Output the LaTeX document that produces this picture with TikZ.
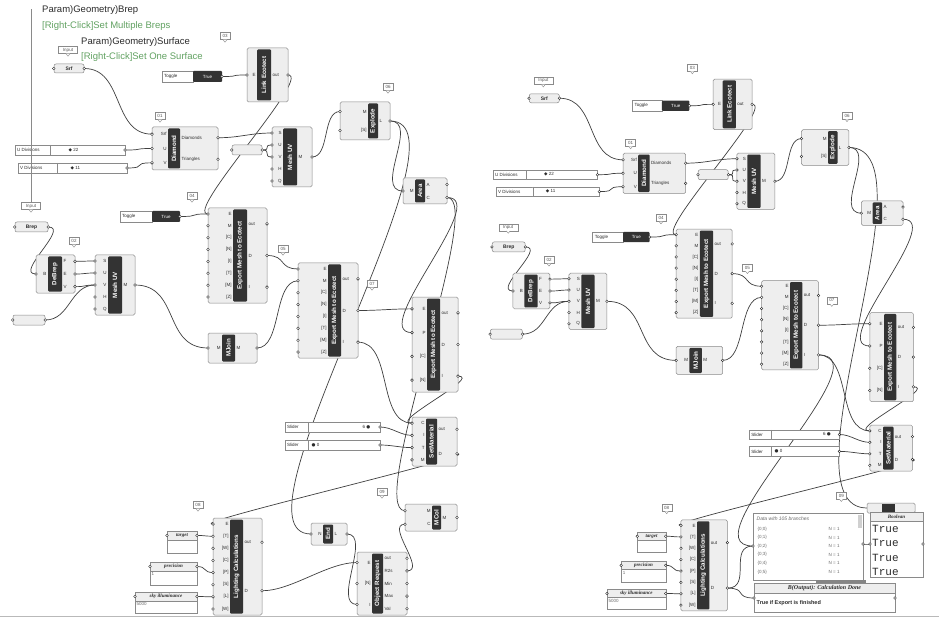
\documentclass[tikz,border=0pt]{standalone}
\usepackage{fontspec}
\setmainfont{Liberation Sans}
\newfontfamily\panelfont{Liberation Serif}
\newfontfamily\codefont{Liberation Mono}
\newfontfamily\glyphfont{DejaVu Sans}
\usetikzlibrary{calc}
\definecolor{Ink}{HTML}{2B2B2B}
\definecolor{Frame}{HTML}{8A8A8A}
\definecolor{Body}{HTML}{EEEEEE}
\definecolor{Band}{HTML}{333333}
\definecolor{Wire}{HTML}{404040}
\definecolor{Hint}{HTML}{62A262}

\pgfdeclarelayer{bg}
\pgfdeclarelayer{wires}
\pgfsetlayers{bg,wires,main}

\tikzset{
  compbox/.style={draw=Frame,fill=Body,line width=0.5pt,rounded corners=1.5pt},
  compband/.style={fill=Band,rounded corners=1pt},
  comptitle/.style={text=white,font=\bfseries\fontsize{6.2}{7}\selectfont,inner sep=0pt},
  portlab/.style={text=Ink,font=\fontsize{4.5}{5}\selectfont,inner sep=0.5pt},
  port/.style={draw=Ink,fill=white,line width=0.4pt},
  wire/.style={draw=Wire,line width=0.7pt},
  parambox/.style={draw=Frame,fill=Body,rounded corners=2pt,line width=0.5pt,inner sep=0pt,font=\bfseries\fontsize{5}{6}\selectfont,text=Ink},
  sliderbox/.style={draw=Frame,fill=white,line width=0.5pt},
  slidertxt/.style={font=\fontsize{4.5}{5}\selectfont,text=Ink,inner sep=0.5pt},
  tagbox/.style={draw=Frame,fill=white,line width=0.4pt,inner sep=1.2pt,minimum width=10pt,minimum height=7pt,font=\fontsize{4.5}{5}\selectfont,text=Ink!80},
  tagptr/.style={draw=Frame,fill=white,line width=0.4pt},
  paneltitle/.style={font=\panelfont\bfseries\itshape\fontsize{5}{6}\selectfont,text=Ink,inner sep=0pt},
  paneltxt/.style={font=\fontsize{4.5}{5}\selectfont,text=Ink!70,inner sep=0.5pt},
  truetxt/.style={font=\codefont\fontsize{11}{12}\selectfont,text=Ink,inner sep=0pt},
  hinttxt/.style={font=\fontsize{9.5}{11}\selectfont,text=Ink,inner sep=0pt},
}

\newcommand{\ghcomp}[8]{%
  \draw[compbox] (#2,#3) rectangle (#4,#5);
  \fill[compband] (#6,#3+1.5) rectangle (#7,#5-1.5);
  \node[comptitle,rotate=90] (#1) at ({(#6+#7)/2},{(#3+#5)/2}) {#8};
  \def\gx{#2}\def\gy{#3}\def\gX{#4}\def\gY{#5}\def\gbl{#6}\def\gbr{#7}}
\newcommand{\ghins}[3]{%
  \foreach \lab [count=\k] in {#3} {
    \pgfmathsetmacro\py{\gy+(\k-0.5)*(\gY-\gy)/#2}
    \coordinate (#1-i\k) at (\gx,\py);
    \node[portlab,anchor=east] (#1-il\k) at (\gbl-0.8,\py) {\lab};
    \draw[port] (#1-i\k) circle (1.4);
  }}
\newcommand{\ghouts}[3]{%
  \foreach \lab [count=\k] in {#3} {
    \pgfmathsetmacro\py{\gy+(\k-0.5)*(\gY-\gy)/#2}
    \coordinate (#1-o\k) at (\gX,\py);
    \node[portlab,anchor=west] (#1-ol\k) at (\gbr+0.8,\py) {\lab};
    \draw[port] (#1-o\k) circle (1.4);
  }}
\newcommand{\ghparam}[6]{%
  \node[parambox,minimum width={(#4-#2)*1pt},minimum height={(#5-#3)*1pt}] (#1) at ({(#2+#4)/2},{(#3+#5)/2}) {#6};
  \draw[port] (#1.west) circle (1.4);
  \draw[port] (#1.east) circle (1.4);}
\newcommand{\ghslider}[9]{%
  \draw[sliderbox] (#2,#3) rectangle (#4,#5);
  \draw[sliderbox] (#6,#3) -- (#6,#5);
  \node[slidertxt,anchor=west] (#1-lab) at (#2+1.5,{(#3+#5)/2}) {#7};
  \node[slidertxt,anchor=west] (#1-val) at (#9,{(#3+#5)/2}) {#8};
  \coordinate (#1) at (#4,{(#3+#5)/2});
  \draw[port] (#1) circle (1.4);}
\newcommand{\ghtoggle}[6]{%
  \draw[sliderbox] (#2,#3) rectangle (#6,#5);
  \fill[Band,rounded corners=1pt] (#6,#3) rectangle (#4,#5);
  \node[slidertxt,anchor=west] (#1-lab) at (#2+1.5,{(#3+#5)/2}) {Toggle};
  \node[slidertxt,text=white] (#1-val) at ({(#6+#4)/2},{(#3+#5)/2}) {True};
  \coordinate (#1) at (#4,{(#3+#5)/2});
  \draw[port] (#1) circle (1.4);}
\newcommand{\ghtag}[5][]{%
  \node[tagbox,#1] (#2) at (#3,#4) {#5};
  \draw[tagptr] (#2.south) ++(-2,0) -- ++(2,2.5) -- ++(2,-2.5);}
\newcommand{\ghpanel}[7]{%
  \draw[draw=Frame,fill=white,line width=0.5pt] (#2,#3) rectangle (#4,#5);
  \draw[draw=Frame,fill=Body,line width=0.5pt] (#2,#3) rectangle (#4,#3+9);
  \node[paneltitle] (#1) at ({(#2+#4)/2},#3+4.5) {#6};
  \node[paneltxt,anchor=north west] (#1-body) at (#2+1,#3+9.8) {#7};
  \coordinate (#1-in) at (#2,#3+4.5);
  \coordinate (#1-out) at (#4,#3+4.5);
  \draw[port] (#1-in) circle (1.4);
  \draw[port] (#1-out) circle (1.4);}
\newcommand{\ghwire}[3][22]{\draw[wire] (#2) .. controls +(#1,0) and +(-#1,0) .. (#3);}

\newcommand{\ghhalf}[1]{%
\ghtag[minimum width=19pt]{#1-tin1}{68}{50}{Input}
\ghparam{#1-srf}{54}{64}{84}{73}{Srf}
\ghtag{#1-t3}{225}{36}{03}
\ghtoggle{#1-tog1}{162}{71}{222}{82}{193}
\ghcomp{#1-link}{247}{48}{288}{102}{257}{271}{Link Ecotect}
\ghins{#1-link}{1}{E}
\ghouts{#1-link}{1}{out}
\ghtag{#1-t1}{160}{116}{01}
\ghcomp{#1-diam}{152}{127}{218}{170}{168}{180}{Diamond}
\ghins{#1-diam}{3}{Srf,U,V}
\ghouts{#1-diam}{2}{Diamonds,Triangles}
\ghslider{#1-udiv}{15}{145}{125}{155}{50}{U Divisions}{{\glyphfont ◆} 22}{68}
\ghslider{#1-vdiv}{18}{163}{127}{173}{57}{V Divisions}{{\glyphfont ◆} 11}{70}
\ghparam{#1-nul1}{232}{145}{262}{155}{}
\ghcomp{#1-mesh1}{272}{127}{312}{187}{283}{297}{Mesh UV}
\ghins{#1-mesh1}{5}{S,U,V,H,Q}
\ghouts{#1-mesh1}{1}{M}
\ghtag{#1-t6}{388}{87}{06}
\ghcomp{#1-expl}{340}{102}{390}{140}{368}{378}{Explode}
\ghins{#1-expl}{2}{M,{[S]}}
\ghouts{#1-expl}{1}{L}
\ghcomp{#1-area}{403}{178}{447}{204}{415}{425}{Area}
\ghins{#1-area}{1}{M}
\ghouts{#1-area}{2}{A,C}
\ghtag[minimum width=19pt]{#1-tin2}{31}{206}{Input}
\ghparam{#1-brep}{15}{222}{48}{232}{Brep}
\ghtag{#1-t2}{74}{241}{02}
\ghcomp{#1-debrep}{36}{255}{75}{293}{48}{62}{DeBrep}
\ghins{#1-debrep}{1}{B}
\ghouts{#1-debrep}{3}{F,E,V}
\ghcomp{#1-mesh2}{95}{255}{135}{315}{108}{122}{Mesh UV}
\ghins{#1-mesh2}{5}{S,U,V,H,Q}
\ghouts{#1-mesh2}{1}{M}
\ghparam{#1-nul2}{13}{315}{45}{325}{}
\ghtoggle{#1-tog2}{120}{211}{180}{222}{152}
\ghtag{#1-t4}{192}{196}{04}
\ghcomp{#1-exp1}{208}{208}{267}{303}{233}{247}{Export Mesh to Ecotect}
\ghins{#1-exp1}{8}{E,M,{[C]},{[N]},{[I]},{[T]},{[M]},{[Z]}}
\ghouts{#1-exp1}{3}{out,D,I}
\ghtag{#1-t5}{283}{249}{05}
\ghcomp{#1-mjoin}{208}{333}{257}{363}{222}{235}{MJoin}
\ghins{#1-mjoin}{1}{M}
\ghouts{#1-mjoin}{1}{M}
\ghcomp{#1-exp2}{298}{263}{358}{358}{328}{341}{Export Mesh to Ecotect}
\ghins{#1-exp2}{8}{E,M,{[C]},{[N]},{[I]},{[T]},{[M]},{[Z]}}
\ghouts{#1-exp2}{3}{out,D,I}
\ghtag{#1-t7}{372}{284}{07}
\ghcomp{#1-exp3}{412}{297}{458}{392}{427}{440}{Export Mesh to Ecotect}
\ghins{#1-exp3}{4}{E,P,{[C]},{[N]}}
\ghouts{#1-exp3}{3}{out,D,I}
\ghslider{#1-sl1}{285}{422}{380}{432}{308}{Slider}{6 {\glyphfont ●}}{362}
\ghslider{#1-sl2}{285}{440}{380}{450}{308}{Slider}{{\glyphfont ●} 0}{311}
\ghcomp{#1-setmat}{412}{417}{457}{466}{426}{437}{SetMaterial}
\ghins{#1-setmat}{4}{C,I,T,M}
\ghouts{#1-setmat}{2}{out,D}
\ghtag{#1-t9}{382}{492}{09}
\ghtag{#1-t8}{198}{505}{08}
\ghcomp{#1-light}{213}{518}{262}{615}{230}{243}{Lighting Calculations}
\ghins{#1-light}{8}{E,{[T]},{[W]},{[C]},{[P]},{[S]},{[L]},{[W]}}
\ghouts{#1-light}{2}{out,D}
\ghpanel{#1-target}{167}{531}{197}{553}{target}{}
\ghpanel{#1-prec}{150}{562}{197}{585}{precision}{1}
\ghpanel{#1-sky}{135}{592}{197}{613}{sky illuminance}{5000}
\begin{pgfonlayer}{wires}
\ghwire[40]{#1-srf.east}{#1-diam-i1}
\ghwire{#1-tog1}{#1-link-i1}
\ghwire{#1-udiv}{#1-diam-i2}
\ghwire{#1-vdiv}{#1-diam-i3}
\ghwire{#1-diam-o1}{#1-mesh1-i1}
\ghwire[10]{#1-nul1.east}{#1-mesh1-i2}
\ghwire[10]{#1-nul1.east}{#1-mesh1-i3}
\ghwire[18]{#1-mesh1-o1}{#1-expl-i1}
\ghwire[30]{#1-expl-o1}{#1-area-i1}
\ghwire[45]{#1-area-o2}{#1-exp3-i2}
\ghwire[25]{#1-link-o1}{#1-exp1-i1}
\ghwire{#1-tog2}{#1-exp1-i1}
\ghwire{#1-brep.east}{#1-debrep-i1}
\ghwire[12]{#1-debrep-o1}{#1-mesh2-i1}
\ghwire[12]{#1-debrep-o2}{#1-mesh2-i2}
\ghwire[12]{#1-debrep-o3}{#1-mesh2-i3}
\ghwire[25]{#1-nul2.east}{#1-mesh2-i3}
\ghwire[45]{#1-mesh2-o1}{#1-mjoin-i1}
\ghwire[25]{#1-mjoin-o1}{#1-exp2-i2}
\ghwire[20]{#1-exp1-o2}{#1-exp2-i1}
\ghwire{#1-exp2-o2}{#1-exp3-i1}
\ghwire[35]{#1-exp2-o3}{#1-setmat-i1}
\ghwire[25]{#1-exp3-o3}{#1-setmat-i1}
\ghwire[12]{#1-sl1}{#1-setmat-i2}
\ghwire[12]{#1-sl2}{#1-setmat-i3}
\ghwire[30]{#1-setmat-o2}{#1-light-i1}
\ghwire[10]{#1-target-out}{#1-light-i2}
\ghwire[10]{#1-prec-out}{#1-light-i5}
\ghwire[10]{#1-sky-out}{#1-light-i7}
\end{pgfonlayer}}

\begin{document}
\begin{tikzpicture}[x=1pt,y=-1pt]
\useasboundingbox (0,0) rectangle (939,620);
\begin{pgfonlayer}{bg}
\fill[white] (0,0) rectangle (939,620);
\draw[Frame!60,line width=0.6pt] (0,616) -- (939,616);
\end{pgfonlayer}

\node[hinttxt,anchor=west] (path1) at (42,10) {Param)Geometry)Brep};
\node[hinttxt,anchor=west,text=Hint] (hint1) at (42,26) {[Right-Click]Set Multiple Breps};
\node[hinttxt,anchor=west] (path2) at (81,42) {Param)Geometry)Surface};
\node[hinttxt,anchor=west,text=Hint] (hint2) at (81,57) {[Right-Click]Set One Surface};

\ghhalf{L}
\draw[Frame,line width=0.5pt] (L-tin2.north) -- ++(0,-193);

\ghcomp{L-end}{311}{523}{347}{545}{323}{333}{End}
\ghins{L-end}{1}{N}
\ghouts{L-end}{1}{L}
\ghcomp{L-objreq}{357}{552}{407}{615}{372}{383}{Object Request}
\ghins{L-objreq}{3}{E,{[N]},I}
\ghouts{L-objreq}{5}{out,R2s,Min,Max,Val}
\ghcomp{L-mcol}{405}{504}{457}{531}{432}{441}{MCol}
\ghins{L-mcol}{2}{M,C}
\ghouts{L-mcol}{1}{M}
\begin{pgfonlayer}{wires}
\ghwire[90]{L-expl-o1}{L-end-i1}
\ghwire[40]{L-area-o2}{L-mcol-i1}
\ghwire[30]{L-light-o2}{L-objreq-i1}
\ghwire[25]{L-end-o1}{L-objreq-i3}
\ghwire[20]{L-objreq-o2}{L-mcol-i2}
\end{pgfonlayer}

\begin{scope}[shift={(478.8,34)},xscale=0.949,yscale=0.938]
\ghhalf{R}
\end{scope}

\node[compbox,minimum width=48pt,minimum height=10pt,inner sep=0pt] (mini) at (891,508) {};
\fill[Band] (882,504) rectangle (895,512);
\coordinate (mini-in) at (867,508);

\node[draw=Frame,fill=white,line width=0.5pt,minimum width=110pt,minimum height=67pt,inner sep=0pt] (data) at (808,546.5) {};
\node[paneltxt,font=\itshape\fontsize{5}{6}\selectfont,anchor=west] (data-head) at (756,519) {Data with 105 branches};
\foreach \r in {0,...,5} {
  \node[paneltxt,anchor=west] (data-k\r) at (757,{529+\r*8.6}) {\{0;\r\}};
  \node[paneltxt,anchor=west] (data-n\r) at (828,{529+\r*8.6}) {N = 1};
}
\fill[Frame!40] (858,515) rectangle (862,528);
\fill[Band!60] (816,580) rectangle (866,585);
\coordinate (data-in) at (753,546);
\coordinate (data-out) at (863,544);
\draw[port] (data-in) circle (1.4);
\draw[port] (data-out) circle (1.4);

\node[draw=Frame,fill=white,line width=0.5pt,minimum width=53pt,minimum height=65pt,inner sep=0pt] (bool) at (896.5,544.5) {};
\draw[draw=Frame,fill=Body,line width=0.5pt] (870,512) rectangle (923,521);
\node[paneltitle] (bool-head) at (896.5,516.5) {Boolean};
\begin{scope}
\clip (870,521) rectangle (923,577);
\foreach \r in {0,...,3} \node[truetxt,anchor=west] (bool-v\r) at (872,{529+\r*14.3}) {True};
\end{scope}
\coordinate (bool-in) at (870,544);
\coordinate (bool-out) at (923,544);
\draw[port] (bool-in) circle (1.4);
\draw[port] (bool-out) circle (1.4);

\node[draw=Frame,fill=white,line width=0.5pt,minimum width=141pt,minimum height=29pt,inner sep=0pt] (done) at (824.5,597.5) {};
\draw[draw=Frame,fill=Body,line width=0.5pt] (754,583) rectangle (895,593);
\node[paneltitle,font=\panelfont\bfseries\itshape\fontsize{6}{7}\selectfont] (done-head) at (824.5,588) {B(Output): Calculation Done};
\node[paneltxt,text=Ink,font=\bfseries\fontsize{5.5}{6.5}\selectfont,anchor=west] (done-body) at (756,603) {True if Export is finished};
\coordinate (done-in) at (754,598);
\coordinate (done-out) at (895,598);
\draw[port] (done-in) circle (1.4);
\draw[port] (done-out) circle (1.4);

\begin{pgfonlayer}{wires}
\ghwire[25]{R-light-o2}{data-in}
\ghwire[20]{R-light-o2}{done-in}
\ghwire[70]{R-exp2-o3}{data-in}
\ghwire[6]{data-out}{bool-in}
\ghwire[90]{R-expl-o1}{mini-in}
\end{pgfonlayer}
\end{tikzpicture}
\end{document}
